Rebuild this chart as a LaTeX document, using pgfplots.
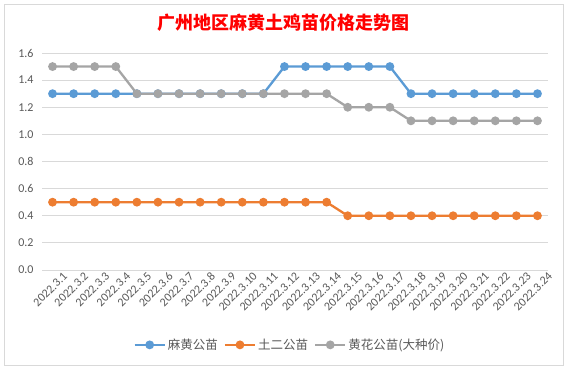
\documentclass[border=0pt]{standalone}
\usepackage{pgfplots}
\pgfplotsset{compat=1.18}
\usepackage{fontspec}
\setmainfont{Carlito}
\newfontfamily\cjk{Noto Sans CJK SC}
\definecolor{sblue}{HTML}{5B9BD5}
\definecolor{sorange}{HTML}{ED7D31}
\definecolor{sgray}{HTML}{A5A5A5}
\definecolor{tickc}{HTML}{595959}
\definecolor{gridc}{HTML}{D9D9D9}
\begin{document}
\begin{tikzpicture}
\path[use as bounding box] (0,0) rectangle (567bp,368bp);
\fill[white] (0,0) rectangle (567bp,368bp);
\draw[gridc, line width=0.6bp] (4bp,3bp) rectangle (563bp,364bp);
\node[text=red, font=\cjk\bfseries\fontsize{18bp}{20bp}\selectfont] at (283bp,345bp) {广州地区麻黄土鸡苗价格走势图};
\begin{axis}[
  at={(42bp,98bp)}, anchor=south west,
  scale only axis, width=506bp, height=217bp,
  xmin=-0.5, xmax=23.5, ymin=0, ymax=1.6,
  ytick={0,0.2,0.4,0.6,0.8,1.0,1.2,1.4,1.6},
  xtick={0,...,23},
  xticklabels={2022.3.1,2022.3.2,2022.3.3,2022.3.4,2022.3.5,2022.3.6,2022.3.7,2022.3.8,2022.3.9,2022.3.10,2022.3.11,2022.3.12,2022.3.13,2022.3.14,2022.3.15,2022.3.16,2022.3.17,2022.3.18,2022.3.19,2022.3.20,2022.3.21,2022.3.22,2022.3.23,2022.3.24},
  x tick label style={rotate=45, anchor=north east, font=\fontsize{12bp}{13bp}\selectfont, text=tickc, inner sep=0bp, xshift=6bp, yshift=-8bp},
  y tick label style={font=\fontsize{12bp}{13bp}\selectfont, text=tickc, xshift=-5bp},
  /pgf/number format/assume math mode=true,
  yticklabel style={/pgf/number format/.cd, fixed, fixed zerofill, precision=1},
  ymajorgrids, grid style={gridc, line width=0.8bp},
  axis line style={draw=none},
  major tick length=0pt,
  clip=false,
  legend style={at={(0.49,-0.345)}, anchor=center, draw=none, fill=none, legend columns=3,
    font=\cjk\fontsize{12.5bp}{13bp}\selectfont, text=tickc,
    /tikz/every even column/.append style={column sep=4bp}},
  legend image code/.code={
    \draw[#1, mark repeat=2, mark phase=2] plot coordinates {(0bp,0bp) (15bp,0bp) (30bp,0bp)};},
  every axis plot/.append style={line width=2.3bp, mark=*, mark size=3.2bp},
]
\addplot[sblue, mark options={fill=sblue, draw=sblue}] coordinates {
(0,1.3)(1,1.3)(2,1.3)(3,1.3)(4,1.3)(5,1.3)(6,1.3)(7,1.3)(8,1.3)(9,1.3)(10,1.3)
(11,1.5)(12,1.5)(13,1.5)(14,1.5)(15,1.5)(16,1.5)
(17,1.3)(18,1.3)(19,1.3)(20,1.3)(21,1.3)(22,1.3)(23,1.3)};
\addlegendentry{麻黄公苗}
\addplot[sorange, mark options={fill=sorange, draw=sorange}] coordinates {
(0,0.5)(1,0.5)(2,0.5)(3,0.5)(4,0.5)(5,0.5)(6,0.5)(7,0.5)(8,0.5)(9,0.5)(10,0.5)(11,0.5)(12,0.5)(13,0.5)
(14,0.4)(15,0.4)(16,0.4)(17,0.4)(18,0.4)(19,0.4)(20,0.4)(21,0.4)(22,0.4)(23,0.4)};
\addlegendentry{土二公苗}
\addplot[sgray, mark options={fill=sgray, draw=sgray}] coordinates {
(0,1.5)(1,1.5)(2,1.5)(3,1.5)
(4,1.3)(5,1.3)(6,1.3)(7,1.3)(8,1.3)(9,1.3)(10,1.3)(11,1.3)(12,1.3)(13,1.3)
(14,1.2)(15,1.2)(16,1.2)
(17,1.1)(18,1.1)(19,1.1)(20,1.1)(21,1.1)(22,1.1)(23,1.1)};
\addlegendentry{黄花公苗(大种价)}
\end{axis}
\end{tikzpicture}
\end{document}
